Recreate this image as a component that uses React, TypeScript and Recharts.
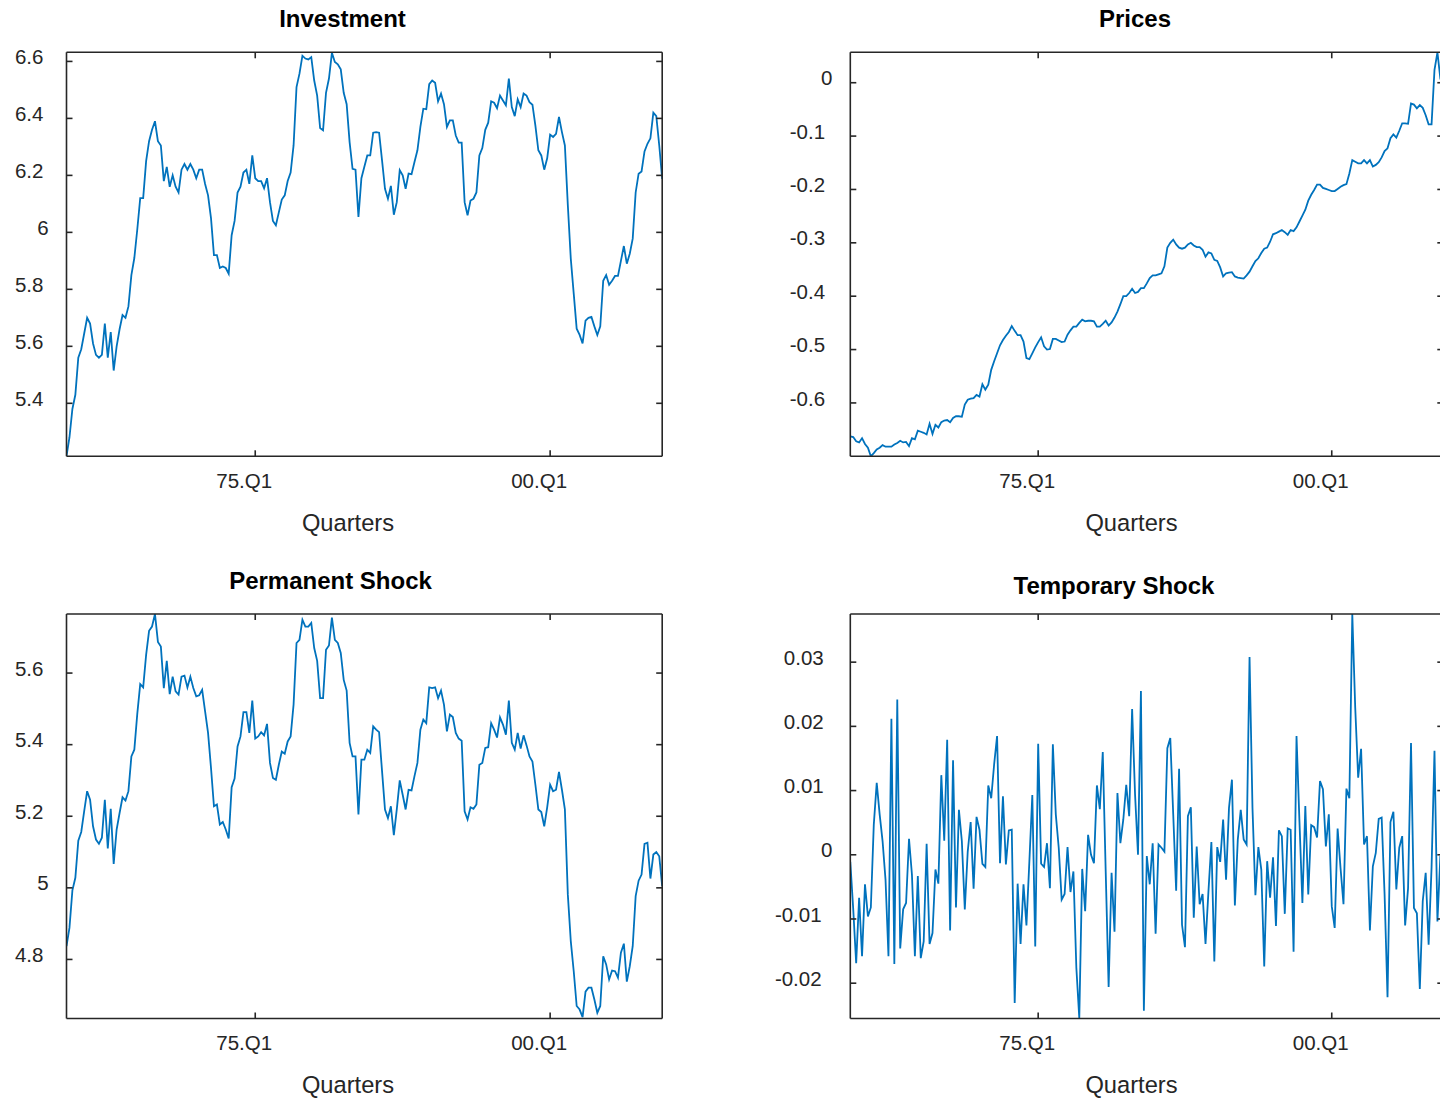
import React from 'react';
import { LineChart, Line, XAxis, YAxis } from 'recharts';

// ---- data ----
const investment = [
  5.215, 5.28, 5.38, 5.43, 5.56, 5.59, 5.645, 5.7, 5.68, 5.61, 5.57, 5.56, 5.57, 5.68, 5.56, 5.65, 5.515, 5.6, 5.66, 5.71,
  5.7, 5.74, 5.85, 5.91, 6.01, 6.12, 6.12, 6.25, 6.32, 6.36, 6.39, 6.32, 6.305, 6.18, 6.23, 6.16, 6.2, 6.16, 6.14, 6.22,
  6.24, 6.22, 6.24, 6.22, 6.19, 6.22, 6.22, 6.17, 6.13, 6.05, 5.92, 5.92, 5.875, 5.88, 5.875, 5.855, 5.99, 6.04, 6.14, 6.16,
  6.21, 6.22, 6.17, 6.27, 6.19, 6.18, 6.18, 6.155, 6.19, 6.106, 6.04, 6.025, 6.07, 6.115, 6.13, 6.18, 6.21, 6.305, 6.51, 6.557,
  6.62, 6.61, 6.607, 6.615, 6.533, 6.48, 6.366, 6.358, 6.49, 6.54, 6.63, 6.598, 6.59, 6.572, 6.49, 6.45, 6.317, 6.223, 6.22, 6.054,
  6.19, 6.23, 6.27, 6.27, 6.35, 6.352, 6.35, 6.253, 6.153, 6.118, 6.163, 6.062, 6.106, 6.218, 6.2, 6.153, 6.206, 6.204, 6.247,
  6.288, 6.37, 6.434, 6.432, 6.52, 6.533, 6.525, 6.46, 6.487, 6.45, 6.37, 6.393, 6.393, 6.34, 6.315, 6.315, 6.106, 6.06, 6.112, 6.118,
  6.14, 6.27, 6.296, 6.36, 6.385, 6.46, 6.455, 6.436, 6.48, 6.463, 6.446, 6.54, 6.44, 6.408, 6.467, 6.44, 6.487, 6.48, 6.457, 6.448,
  6.375, 6.288, 6.27, 6.22, 6.26, 6.343, 6.335, 6.346, 6.405, 6.352, 6.305, 6.095, 5.908, 5.785, 5.662, 5.64, 5.61, 5.69, 5.7, 5.703,
  5.67, 5.64, 5.67, 5.83, 5.85, 5.816, 5.83, 5.847, 5.847, 5.9, 5.952, 5.89, 5.925, 5.978, 6.14, 6.206, 6.214, 6.284, 6.311, 6.33,
  6.42, 6.408, 6.305, 6.188,
];

const prices = [
  -0.6625, -0.664, -0.672, -0.674, -0.666, -0.677, -0.684, -0.7, -0.694, -0.687, -0.684, -0.679, -0.682, -0.682, -0.682, -0.678,
  -0.675, -0.671, -0.674, -0.673, -0.681, -0.666, -0.668, -0.652, -0.654, -0.656, -0.659, -0.639, -0.658, -0.641, -0.646, -0.636,
  -0.633, -0.632, -0.636, -0.628, -0.625, -0.625, -0.626, -0.603, -0.594, -0.592, -0.591, -0.585, -0.588, -0.565, -0.575, -0.566,
  -0.538, -0.522, -0.507, -0.492, -0.482, -0.474, -0.467, -0.456, -0.465, -0.473, -0.473, -0.485, -0.516, -0.518, -0.507, -0.496,
  -0.486, -0.477, -0.494, -0.5, -0.499, -0.48, -0.48, -0.483, -0.486, -0.485, -0.472, -0.464, -0.457, -0.457, -0.45, -0.444,
  -0.447, -0.446, -0.446, -0.447, -0.457, -0.457, -0.452, -0.446, -0.455, -0.449, -0.44, -0.429, -0.415, -0.4, -0.4, -0.394,
  -0.386, -0.394, -0.392, -0.385, -0.385, -0.376, -0.366, -0.361, -0.361, -0.359, -0.357, -0.344, -0.309, -0.3, -0.294, -0.303,
  -0.309, -0.311, -0.309, -0.303, -0.3, -0.305, -0.308, -0.308, -0.313, -0.326, -0.318, -0.32, -0.332, -0.334, -0.346, -0.363,
  -0.357, -0.356, -0.355, -0.363, -0.365, -0.366, -0.367, -0.361, -0.354, -0.344, -0.334, -0.329, -0.319, -0.311, -0.309, -0.298,
  -0.284, -0.282, -0.279, -0.276, -0.28, -0.285, -0.276, -0.278, -0.271, -0.26, -0.249, -0.238, -0.221, -0.21, -0.201, -0.191,
  -0.191, -0.197, -0.199, -0.201, -0.203, -0.203, -0.199, -0.195, -0.192, -0.19, -0.17, -0.145, -0.148, -0.151, -0.151, -0.145,
  -0.151, -0.145, -0.157, -0.154, -0.149, -0.14, -0.128, -0.123, -0.104, -0.097, -0.103, -0.09, -0.076, -0.076, -0.077, -0.039,
  -0.041, -0.048, -0.042, -0.047, -0.061, -0.078, -0.078, 0.024, 0.057, 0.008, -0.01,
];

const permanentShock = [
  4.837, 4.888, 4.993, 5.028, 5.132, 5.156, 5.214, 5.27, 5.246, 5.172, 5.135, 5.123, 5.14, 5.246, 5.11, 5.221, 5.067, 5.163, 5.209, 5.253,
  5.244, 5.27, 5.367, 5.386, 5.486, 5.569, 5.56, 5.651, 5.718, 5.73, 5.765, 5.687, 5.674, 5.558, 5.634, 5.541, 5.59, 5.549, 5.54, 5.59,
  5.593, 5.56, 5.59, 5.558, 5.535, 5.538, 5.553, 5.493, 5.433, 5.335, 5.228, 5.233, 5.177, 5.184, 5.163, 5.138, 5.281, 5.305, 5.395, 5.423,
  5.491, 5.491, 5.433, 5.523, 5.417, 5.423, 5.435, 5.426, 5.458, 5.349, 5.307, 5.302, 5.344, 5.381, 5.375, 5.409, 5.423, 5.512, 5.684, 5.693,
  5.749, 5.73, 5.73, 5.74, 5.67, 5.634, 5.53, 5.53, 5.665, 5.677, 5.755, 5.693, 5.684, 5.656, 5.581, 5.551, 5.405, 5.367, 5.367, 5.205,
  5.358, 5.358, 5.386, 5.377, 5.451, 5.442, 5.435, 5.326, 5.219, 5.195, 5.228, 5.147, 5.219, 5.3, 5.26, 5.219, 5.274, 5.272, 5.312,
  5.349, 5.442, 5.47, 5.46, 5.56, 5.558, 5.56, 5.53, 5.551, 5.512, 5.437, 5.484, 5.477, 5.433, 5.417, 5.411, 5.214, 5.191, 5.225, 5.221,
  5.233, 5.344, 5.349, 5.391, 5.393, 5.46, 5.442, 5.42, 5.476, 5.456, 5.428, 5.523, 5.405, 5.386, 5.433, 5.389, 5.426, 5.398, 5.367, 5.353,
  5.288, 5.219, 5.212, 5.172, 5.225, 5.288, 5.27, 5.274, 5.324, 5.274, 5.219, 4.981, 4.851, 4.767, 4.67, 4.66, 4.639, 4.71, 4.721, 4.721,
  4.688, 4.651, 4.67, 4.809, 4.786, 4.744, 4.769, 4.767, 4.749, 4.819, 4.844, 4.738, 4.781, 4.837, 4.977, 5.02, 5.037, 5.123, 5.126, 5.026,
  5.093, 5.1, 5.088, 5.005,
];

const temporaryShock = [
  -0.0011, -0.0085, -0.0169, -0.0067, -0.0158, -0.0046, -0.0096, -0.0082, 0.0047, 0.0112, 0.0063, 0.0021, -0.0039, -0.0158, 0.0212, -0.017,
  0.0242, -0.0146, -0.0085, -0.0075, 0.0025, -0.0031, -0.0158, -0.0033, -0.0161, -0.0135, 0.0017, -0.0139, -0.0122, -0.0023, -0.0045, 0.0124,
  0.0022, 0.0179, -0.0118, 0.0147, -0.0082, 0.007, 0.0021, -0.0085, 0.0005, 0.0051, -0.0053, 0.0059, 0.0039, -0.0014, -0.0019, 0.0108,
  0.0088, 0.0141, 0.0185, -0.0013, 0.0091, -0.0015, 0.0038, 0.0039, -0.0231, -0.0045, -0.0139, -0.0046, -0.011, -0.001, 0.0093, -0.0143,
  0.0173, -0.0014, -0.0019, 0.0018, -0.0052, 0.0172, 0.0063, 0.0011, -0.007, -0.0061, 0.0012, -0.0058, -0.0026, -0.0176, -0.0254, -0.0022,
  -0.0088, 0.0031, 0.0, -0.0013, 0.0108, 0.0071, 0.016, -0.0026, -0.0206, -0.0028, -0.012, 0.0096, 0.0018, 0.0055, 0.0109, 0.006,
  0.0227, 0.0094, 0.0, 0.0255, -0.0243, -0.0002, -0.0046, 0.0018, -0.0123, 0.0016, 0.0011, 0.0005, 0.0166, 0.0182, 0.0063, -0.0056,
  0.0134, -0.0109, -0.0144, 0.006, 0.0074, -0.0098, 0.0013, -0.0077, -0.0061, -0.0139, -0.0057, 0.002, -0.0166, 0.0012, -0.0011, 0.0055,
  -0.0039, 0.0073, 0.0117, -0.0079, 0.0024, 0.007, 0.0024, 0.0016, 0.0308, 0.0073, -0.0063, 0.0012, -0.0023, -0.0174, -0.001, -0.0067,
  -0.0004, -0.0111, 0.0038, 0.0029, -0.0092, 0.0041, 0.0039, -0.0151, 0.0185, 0.0052, -0.0075, 0.0076, -0.0062, 0.0046, 0.0043, 0.0027,
  0.0115, 0.0102, 0.0013, 0.0063, -0.008, -0.0114, 0.0041, -0.0021, -0.0077, 0.0103, 0.0088, 0.0375, 0.0229, 0.012, 0.0165, 0.0016,
  0.0029, -0.0118, -0.0018, 0.0003, 0.0056, 0.0058, -0.0062, -0.0222, 0.0051, 0.0067, -0.0054, 0.0011, 0.0029, -0.011, -0.0052, 0.0174,
  -0.0083, -0.0091, -0.0209, -0.0072, -0.0028, -0.014, -0.002, 0.0162, -0.0104, -0.0002, -0.0057,
];

const firstYear = 1959;
const quarters = Array.from({ length: prices.length }, (_, i) => {
  const y = firstYear + Math.floor(i / 4);
  return `${String(y % 100).padStart(2, '0')}.Q${(i % 4) + 1}`;
});
const xTickLabels = ['75.Q1', '00.Q1'];

const investmentTicks = [5.4, 5.6, 5.8, 6, 6.2, 6.4, 6.6];
const pricesTicks = [-0.6, -0.5, -0.4, -0.3, -0.2, -0.1, 0];
const permanentTicks = [4.8, 5, 5.2, 5.4, 5.6];
const temporaryTicks = [-0.02, -0.01, 0, 0.01, 0.02, 0.03];

const titles = ['Investment', 'Prices', 'Permanent Shock', 'Temporary Shock'];
const xLabel = 'Quarters';

// ---- styling / layout ----
const CW = 1460;
const CH = 1100;
const AXIS = '#262626';
const LINE = '#0072BD';
const FONT = '"Liberation Sans", Arial, Helvetica, sans-serif';
const TICK_FS = 20.5;

type Plot = { l: number; r: number; t: number; b: number };

const charW = (s: string, fs: number) => {
  let w = 0;
  for (const c of s) w += c === '.' ? 0.278 : c === '-' ? 0.333 : 0.556;
  return w * fs;
};
const fmt = (v: number) => String(Number(Number(v).toPrecision(6)));

function Panel({ values, domain, yTicks, plot }: { values: number[]; domain: [number, number]; yTicks: number[]; plot: Plot }) {
  const data = values.map((v, i) => ({ i, v }));
  const xTicks = xTickLabels.map((l) => quarters.indexOf(l));
  const n = values.length;
  const A = 1; // axis thickness reserved by recharts
  const margin = { left: plot.l - A, top: plot.t - A, right: CW - plot.r - A, bottom: CH - plot.b - A };
  const axisLine = { stroke: AXIS, strokeWidth: 1.6 };

  const bottomTick = (p: any) => {
    const x = p.payload?.coordinate ?? p.x;
    return (
      <g>
        <line x1={x} x2={x} y1={plot.b} y2={plot.b - 6} stroke={AXIS} strokeWidth={1.6} />
        <text x={x - 11} y={plot.b + 31.4} textAnchor="middle" fontFamily={FONT} fontSize={TICK_FS} fill={AXIS}>
          {quarters[Math.round(p.payload.value)]}
        </text>
      </g>
    );
  };
  const topTick = (p: any) => {
    const x = p.payload?.coordinate ?? p.x;
    return <line x1={x} x2={x} y1={plot.t} y2={plot.t + 6} stroke={AXIS} strokeWidth={1.6} />;
  };
  const leftTick = (p: any) => {
    const y = p.payload?.coordinate ?? p.y;
    const s = fmt(p.payload.value);
    const w = charW(s, TICK_FS);
    return (
      <g>
        <line x1={plot.l} x2={plot.l + 6} y1={y} y2={y} stroke={AXIS} strokeWidth={1.6} />
        <text x={plot.l - 14.4 - 0.806 * w} y={y + 2.6} textAnchor="middle" fontFamily={FONT} fontSize={TICK_FS} fill={AXIS}>
          {s}
        </text>
      </g>
    );
  };
  const rightTick = (p: any) => {
    const y = p.payload?.coordinate ?? p.y;
    return <line x1={plot.r - 6} x2={plot.r} y1={y} y2={y} stroke={AXIS} strokeWidth={1.6} />;
  };

  return (
    <div style={{ position: 'absolute', left: 0, top: 0 }}>
      <LineChart width={CW} height={CH} data={data} margin={margin}>
        <XAxis xAxisId="b" dataKey="i" type="number" domain={[0, n - 1]} ticks={xTicks} interval={0} height={A}
          axisLine={axisLine} tickLine={false} tickSize={0} tick={bottomTick} allowDataOverflow />
        <XAxis xAxisId="t" orientation="top" dataKey="i" type="number" domain={[0, n - 1]} ticks={xTicks} interval={0} height={A}
          axisLine={axisLine} tickLine={false} tickSize={0} tick={topTick} allowDataOverflow />
        <YAxis yAxisId="l" type="number" domain={domain} ticks={yTicks} interval={0} width={A}
          axisLine={axisLine} tickLine={false} tickSize={0} tick={leftTick} allowDataOverflow />
        <YAxis yAxisId="r" orientation="right" type="number" domain={domain} ticks={yTicks} interval={0} width={A}
          axisLine={axisLine} tickLine={false} tickSize={0} tick={rightTick} allowDataOverflow />
        <Line xAxisId="b" yAxisId="l" type="linear" dataKey="v" stroke={LINE} strokeWidth={1.8} dot={false}
          activeDot={false} isAnimationActive={false} />
      </LineChart>
    </div>
  );
}

const TL: Plot = { l: 66.5, r: 662.2, t: 52.3, b: 456.3 };
const TR: Plot = { l: 850.3, r: 1443.3, t: 52.3, b: 456.3 };
const BL: Plot = { l: 66.5, r: 662.2, t: 614, b: 1018.5 };
const BR: Plot = { l: 850.3, r: 1443.3, t: 614, b: 1018.5 };

export default function App() {
  const titleStyle = { fontFamily: FONT, fontSize: 24, fontWeight: 700 as const, fill: '#000' };
  const labelStyle = { fontFamily: FONT, fontSize: 23.7, fill: AXIS };
  return (
    <div style={{ position: 'fixed', left: 0, top: 0, width: 1440, height: 1100, overflow: 'hidden', background: '#fff' }}>
      <Panel values={investment} domain={[5.214, 6.632]} yTicks={investmentTicks} plot={TL} />
      <Panel values={prices} domain={[-0.7, 0.057]} yTicks={pricesTicks} plot={TR} />
      <Panel values={permanentShock} domain={[4.635, 5.765]} yTicks={permanentTicks} plot={BL} />
      <Panel values={temporaryShock} domain={[-0.0255, 0.0375]} yTicks={temporaryTicks} plot={BR} />
      <svg width={1460} height={1100} style={{ position: 'absolute', left: 0, top: 0, pointerEvents: 'none' }}>
        <text x={342.5} y={26.6} textAnchor="middle" style={titleStyle}>{titles[0]}</text>
        <text x={1135} y={26.6} textAnchor="middle" style={titleStyle}>{titles[1]}</text>
        <text x={330.5} y={588.6} textAnchor="middle" style={titleStyle}>{titles[2]}</text>
        <text x={1114} y={593.6} textAnchor="middle" style={titleStyle}>{titles[3]}</text>
        <text x={348} y={531} textAnchor="middle" style={labelStyle}>{xLabel}</text>
        <text x={1131.5} y={531} textAnchor="middle" style={labelStyle}>{xLabel}</text>
        <text x={348} y={1093} textAnchor="middle" style={labelStyle}>{xLabel}</text>
        <text x={1131.5} y={1093} textAnchor="middle" style={labelStyle}>{xLabel}</text>
      </svg>
    </div>
  );
}
